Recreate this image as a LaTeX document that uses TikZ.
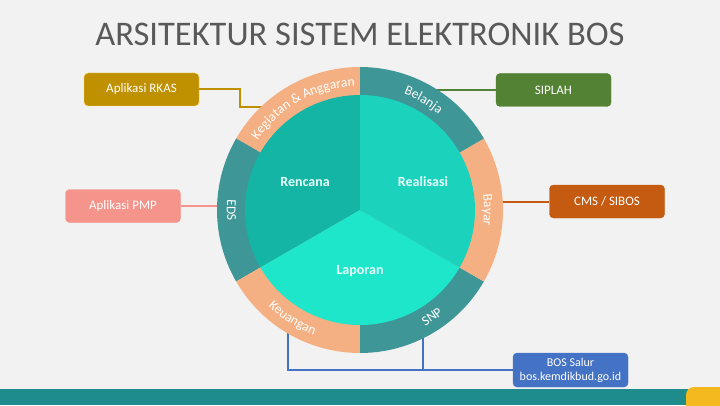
\documentclass[tikz,border=0pt]{standalone}
\usepackage{fontspec}
\setmainfont{Carlito}
\usetikzlibrary{calc}
\usetikzlibrary{decorations.text}

\definecolor{bggray}{RGB}{242,242,242}
\definecolor{titlegray}{RGB}{89,89,89}
\definecolor{ringteal}{RGB}{62,150,150}
\definecolor{ringorange}{RGB}{244,176,131}
\definecolor{rencanateal}{RGB}{20,181,164}
\definecolor{realisasiteal}{RGB}{27,211,189}
\definecolor{laporanteal}{RGB}{30,230,202}
\definecolor{rkasgold}{RGB}{191,144,0}
\definecolor{rkasedge}{RGB}{255,217,102}
\definecolor{siplahgreen}{RGB}{84,130,53}
\definecolor{pmpsalmon}{RGB}{244,148,138}
\definecolor{cmsbrown}{RGB}{197,90,17}
\definecolor{bosblue}{RGB}{68,114,196}
\definecolor{barteal}{RGB}{30,140,140}
\definecolor{baryellow}{RGB}{244,185,30}
\definecolor{pietext}{RGB}{232,255,250}

\tikzset{
  appbox/.style={fill=#1, draw=#1, rounded corners=4pt, minimum width=115pt,
    minimum height=33pt, inner sep=0pt, text=white, align=center,
    font=\fontsize{13}{15}\selectfont},
  link/.style={draw=#1, line width=2pt},
  pielabel/.style={text=pietext, font=\fontsize{14}{16}\selectfont\bfseries},
  ringlabel/.style={decorate, decoration={text along path, text align=center,
    text color=white, text={|\fontsize{13.5}{15}\selectfont|#1}}}
}

\begin{document}
\begin{tikzpicture}[x=1pt, y=1pt]
\useasboundingbox (0,0) rectangle (720,405);
\fill[bggray] (0,0) rectangle (720,405);

\node[text=titlegray, font=\fontsize{34.5}{40}\selectfont, anchor=base] (title) at (360,359) {ARSITEKTUR SISTEM ELEKTRONIK BOS};

\coordinate (ctr) at (360,195);

\draw node[appbox=rkasgold, draw=rkasedge] (rkas) at (141.5,315.5) {Aplikasi RKAS};
\draw node[appbox=siplahgreen] (siplah) at (553.5,315) {SIPLAH};
\draw node[appbox=pmpsalmon] (pmp) at (123,199) {Aplikasi PMP};
\draw node[appbox=cmsbrown] (cms) at (607,203.5) {CMS / SIBOS};
\draw node[appbox=bosblue, minimum height=34pt, font=\fontsize{12}{14}\selectfont] (bos) at (570.5,35) {BOS Salur\\bos.kemdikbud.go.id};

\coordinate (ring-kegiatan) at (270,298);
\coordinate (ring-belanja) at (430,315);
\coordinate (ring-eds) at (225,199);
\coordinate (ring-bayar) at (495,203.5);
\coordinate (ring-keuangan) at (288,85);
\coordinate (ring-snp) at (423,80);

\draw[link=rkasgold] (rkas.east) -- ++(41,0) |- (ring-kegiatan);
\draw[link=siplahgreen] (siplah.west) -- (ring-belanja);
\draw[link=pmpsalmon] (pmp.east) -- (ring-eds);
\draw[link=cmsbrown] (cms.west) -- (ring-bayar);
\draw[link=bosblue] (ring-keuangan) |- (bos.west);
\draw[link=bosblue] (ring-snp) |- (bos.west);

\foreach \a/\c in {90/ringorange, 150/ringteal, 210/ringorange, 270/ringteal, 330/ringorange, 30/ringteal}
  \fill[\c] (ctr) -- ++(\a:143) arc[start angle=\a, end angle=\a+60, radius=143] -- cycle;

\foreach \a/\c in {90/rencanateal, 210/laporanteal, 330/realisasiteal}
  \fill[\c] (ctr) -- ++(\a:115) arc[start angle=\a, end angle=\a+120, radius=115] -- cycle;

\draw node[pielabel] (rencana) at (305,223) {Rencana};
\draw node[pielabel] (realisasi) at (423,223) {Realisasi};
\draw node[pielabel] (laporan) at (360,134) {Laporan};

\path[ringlabel={Kegiatan {\&} Anggaran}] (ctr) ++(152:124) arc[start angle=152, end angle=86, radius=124];
\path[ringlabel=Belanja] (ctr) ++(90:124) arc[start angle=90, end angle=30, radius=124];
\path[ringlabel=Bayar] (ctr) ++(30:124) arc[start angle=30, end angle=-30, radius=124];
\path[ringlabel=SNP] (ctr) ++(-86:133) arc[start angle=-86, end angle=-26, radius=133];
\path[ringlabel=Keuangan] (ctr) ++(208:133) arc[start angle=208, end angle=268, radius=133];
\path[ringlabel=EDS] (ctr) ++(150:133) arc[start angle=150, end angle=210, radius=133];

\fill[barteal] (0,0) rectangle (720,16);
\fill[baryellow, rounded corners=8pt] (686,-12) rectangle (732,18);
\end{tikzpicture}
\end{document}
